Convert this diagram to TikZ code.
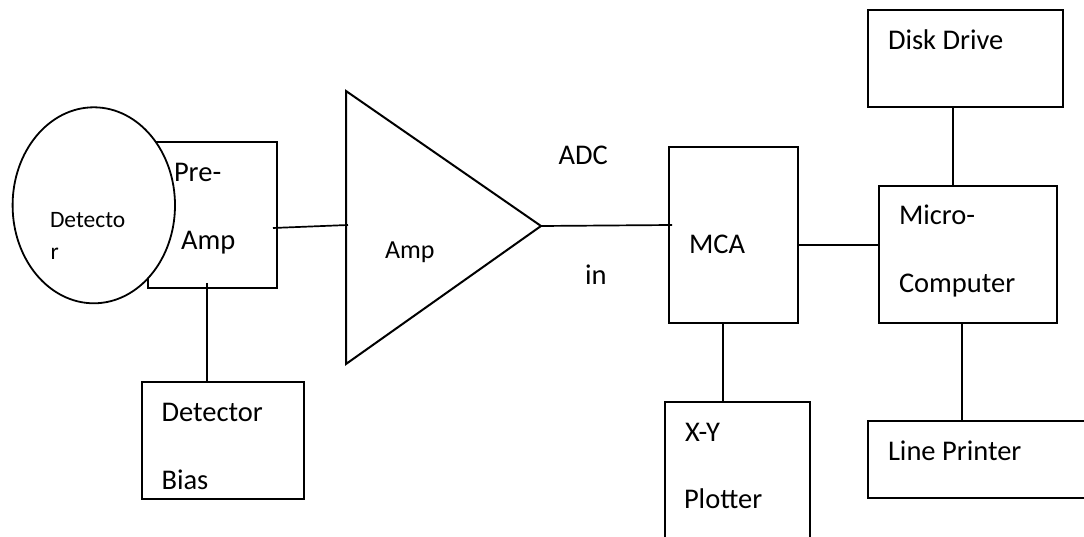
\documentclass[tikz,border=0pt]{standalone}
\usepackage{fontspec}
\setmainfont{Carlito}
\usetikzlibrary{shapes.geometric}
\tikzset{
  box/.style={draw, line width=2pt, inner sep=0pt, outer sep=0pt},
  wire/.style={line width=1.7pt},
  lbl/.style={anchor=base west, inner sep=0pt, outer sep=0pt, font=\fontsize{28.5}{34}\selectfont},
}
\begin{document}
\begin{tikzpicture}[x=1pt,y=-1pt]
\useasboundingbox (0,0) rectangle (1084,537);
\clip (0,0) rectangle (1084,537);
% boxes
\node[box, minimum width=129.3pt, minimum height=146pt] (preamp) at (212.35,215.3) {};
\node[box, minimum width=162pt, minimum height=117.6pt] (bias) at (222.7,440.5) {};
\node[box, minimum width=129.3pt, minimum height=176pt] (mca) at (733.35,234.7) {};
\node[box, minimum width=145.3pt, minimum height=178.3pt] (xy) at (737.65,490.85) {};
\node[box, minimum width=194.7pt, minimum height=97.9pt] (disk) at (965.65,58.55) {};
\node[box, minimum width=178pt, minimum height=137.6pt] (micro) at (967.7,254.5) {};
\node[box, minimum width=251.7pt, minimum height=77.3pt] (lp) at (994.15,459.65) {};
% detector ellipse (drawn over the pre-amp box)
\node[ellipse, draw, fill=white, line width=1.8pt, inner sep=0pt, outer sep=0pt,
      minimum width=162.4pt, minimum height=196pt] (det) at (93.8,205.3) {};
% amplifier triangle
\coordinate (atop) at (346,91);
\coordinate (abot) at (346,364);
\coordinate (atip) at (541,226);
\draw[line width=2pt, line join=miter] (atop) -- (atip) -- (abot) -- cycle;
% connectors
\coordinate (paout) at (273,228);
\coordinate (ain) at (348,225);
\draw[wire] (paout) -- (ain);
\coordinate (mcain) at (672,225);
\draw[wire] (atip) -- (mcain);
\draw[wire] (206.7,283) -- (206.7,0 |- bias.north);
\draw[wire] (mca.east |- 0,245) -- (micro.west |- 0,245);
\draw[wire] (953.3,0 |- disk.south) -- (953.3,0 |- micro.north);
\draw[wire] (961.7,0 |- micro.south) -- (961.7,0 |- lp.north);
\draw[wire] (723.3,0 |- mca.south) -- (723.3,0 |- xy.north);
% texts
\node[lbl] (tpre) at (174,181.7) {Pre-};
\node[lbl] (tpamp) at (181,250) {Amp};
\node[lbl, font=\fontsize{23.5}{28}\selectfont] (tdet1) at (50,227.7) {Detecto};
\node[lbl, font=\fontsize{23.5}{28}\selectfont] (tdet2) at (50.5,260) {r};
\node[lbl, font=\fontsize{26}{31}\selectfont] (tamp) at (385,258.3) {Amp};
\node[lbl] (tadc) at (558.5,165) {ADC};
\node[lbl] (tin) at (585,284) {in};
\node[lbl] (tmca) at (689,254) {MCA};
\node[lbl] (tdisk) at (888,49.7) {Disk Drive};
\node[lbl] (tmicro) at (899,224.3) {Micro-};
\node[lbl] (tcomp) at (899,292.7) {Computer};
\node[lbl] (txy) at (685,441) {X-Y};
\node[lbl] (tplot) at (684,508.3) {Plotter};
\node[lbl] (tlp) at (888,460) {Line Printer};
\node[lbl] (tbias1) at (161.5,421.7) {Detector};
\node[lbl] (tbias2) at (161.5,489.3) {Bias};
\end{tikzpicture}
\end{document}
